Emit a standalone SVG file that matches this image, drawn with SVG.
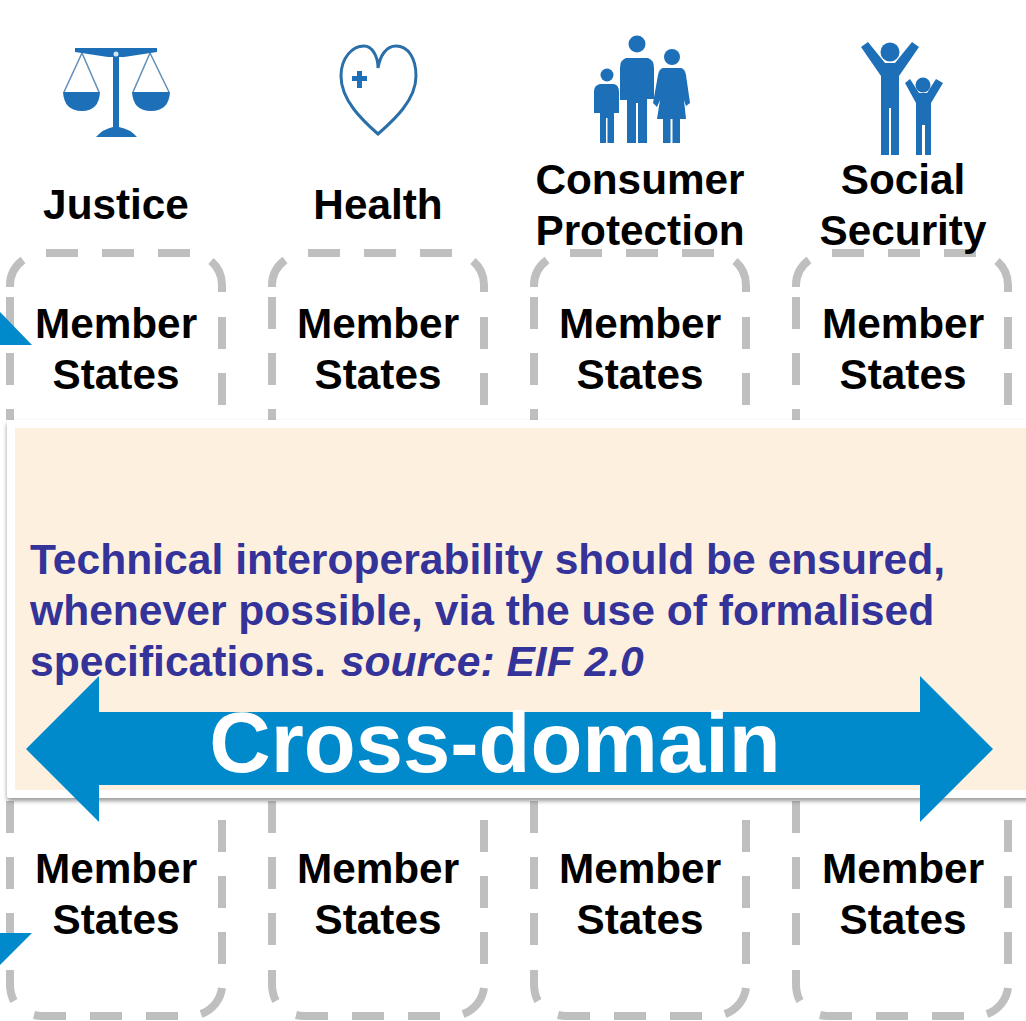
<svg xmlns="http://www.w3.org/2000/svg" width="1026" height="1021" viewBox="0 0 1026 1021">
<style>
text{font-family:"Liberation Sans",Arial,sans-serif;font-weight:700;text-anchor:middle;fill:#000}
.l{font-size:42.3px}
.p{font-size:42.6px;fill:#333399;text-anchor:start}
.x{font-size:85px;fill:#fff}
.box{fill:none;stroke:#bfbfbf;stroke-width:8}
.ic{fill:#1d6fb8}
</style>
<defs>
<path id="b" class="box" d="M46 253H78M102 253H134M158 253H190M211 261A32 32 0 0 1 222 285V292M222 317V349M222 373V405M222 820V852M222 876V908M222 932V964M222 988A32 32 0 0 1 201 1014M178 1016H146M122 1016H90M66 1016H42Q38 1016 34 1015M14 1001Q10 994 10 984V970M10 945V913M10 889V857M10 833V801M10 420V409M10 385V353M10 329V297M10 287V285Q10 270 23 260"/>
<filter id="s" x="-2%" y="-3%" width="104%" height="106%"><feDropShadow dx="0" dy="3" stdDeviation="2" flood-color="#000" flood-opacity=".4"/></filter>
</defs>
<rect width="1026" height="1021" fill="#fff"/>
<g id="box-justice"><use href="#b"/></g>
<g id="box-health"><use href="#b" x="262"/></g>
<g id="box-consumer"><use href="#b" x="524"/></g>
<g id="box-social"><use href="#b" x="786"/></g>
<g id="corner-marks" fill="#0089cb"><path d="M0 312L32 345H0Z"/><path d="M0 933H32L0 965Z"/></g>
<g id="icon-justice">
<path class="ic" d="M75 48H157L157 52L124 57H108L75 52Z"/>
<rect class="ic" x="113" y="54" width="6" height="76"/>
<path class="ic" d="M96 137Q103 129 113 127H119Q130 129 137 137Z"/>
<path class="ic" d="M63 92H100Q99 111 82 111Q64 111 63 92Z"/>
<path class="ic" d="M132 92H170Q169 111 151 111Q133 111 132 92Z"/>
<path fill="none" stroke="#5f8fb8" stroke-width="1.500" d="M82 53L64 92M82 53L99 92M150 53L133 92M150 53L169 92"/>
<circle cx="116" cy="54" r="2.500" fill="#cfe6f5"/>
</g>
<g id="icon-health">
<path fill="none" stroke="#2a6fa8" stroke-width="3" d="M378 134C362 120 341 100 341 76C341 57 353 46 364 46C372 46 378 56 378 68C380 56 386 46 396 46C408 46 416 58 416 76C416 100 394 120 378 134Z"/>
<path class="ic" d="M357 71H362V76H367V81H362V88H357V81H352V76H357Z"/>
</g>
<g id="icon-consumer">
<circle class="ic" cx="637" cy="44" r="8.500"/>
<path class="ic" d="M626 58H648Q654 60 654 68V99H647V143H638V103H636V143H627V100H620V68Q620 60 626 58Z"/>
<circle class="ic" cx="607" cy="75" r="6.500"/>
<path class="ic" d="M600 84H614Q619 85 619 92V113H614V143H607.500V118H606V143H600V113H594V92Q594 85 600 84Z"/>
<circle class="ic" cx="672" cy="57" r="8"/>
<path class="ic" d="M663 68H681Q685 69 686 75L690 103L686 106L684 100L686 119H680V143H672.500V119H670.500V143H663V119H657L660 100L657 107L653 103L658 75Q659 69 663 68Z"/>
</g>
<g id="icon-social">
<circle class="ic" cx="890" cy="52" r="9.500"/>
<path class="ic" d="M861 47L868 42L885 63H895L912 42L919 47L899 76V155H891V108H889V155H881V76Z"/>
<circle class="ic" cx="923" cy="85" r="7.500"/>
<path class="ic" d="M905 83L910 79L919 93H927L936 79L943 83L931 103V155H925V125H922V155H916V103Z"/>
</g>
<g id="labels">
<text class="l" x="116" y="219">Justice</text>
<text class="l" x="378" y="219">Health</text>
<text class="l" x="640" y="194">Consumer</text>
<text class="l" x="640" y="245">Protection</text>
<text class="l" x="903" y="194">Social</text>
<text class="l" x="903" y="245">Security</text>
</g>
<g id="members-top">
<text class="l" x="116" y="338">Member</text><text class="l" x="116" y="389">States</text>
<text class="l" x="378" y="338">Member</text><text class="l" x="378" y="389">States</text>
<text class="l" x="640" y="338">Member</text><text class="l" x="640" y="389">States</text>
<text class="l" x="903" y="338">Member</text><text class="l" x="903" y="389">States</text>
</g>
<g id="members-bottom">
<text class="l" x="116" y="883">Member</text><text class="l" x="116" y="934">States</text>
<text class="l" x="378" y="883">Member</text><text class="l" x="378" y="934">States</text>
<text class="l" x="640" y="883">Member</text><text class="l" x="640" y="934">States</text>
<text class="l" x="903" y="883">Member</text><text class="l" x="903" y="934">States</text>
</g>
<g id="panel">
<rect x="7" y="420" width="1040" height="378" rx="3" fill="#fff" filter="url(#s)"/>
<rect x="15" y="428" width="1011" height="362" fill="#fdf0df"/>
<text class="p" x="30" y="574">Technical interoperability should be ensured,</text>
<text class="p" x="30" y="625">whenever possible, via the use of formalised</text>
<text class="p" x="30" y="676">specifications. <tspan dx="3" font-style="italic">source: EIF 2.0</tspan></text>
</g>
<g id="connectors">
<path fill="#0089cb" d="M26 749L99 676V712H920V676L993 749L920 822V785H99V822Z"/>
</g>
<text class="x" x="495" y="772">Cross-domain</text>
</svg>
